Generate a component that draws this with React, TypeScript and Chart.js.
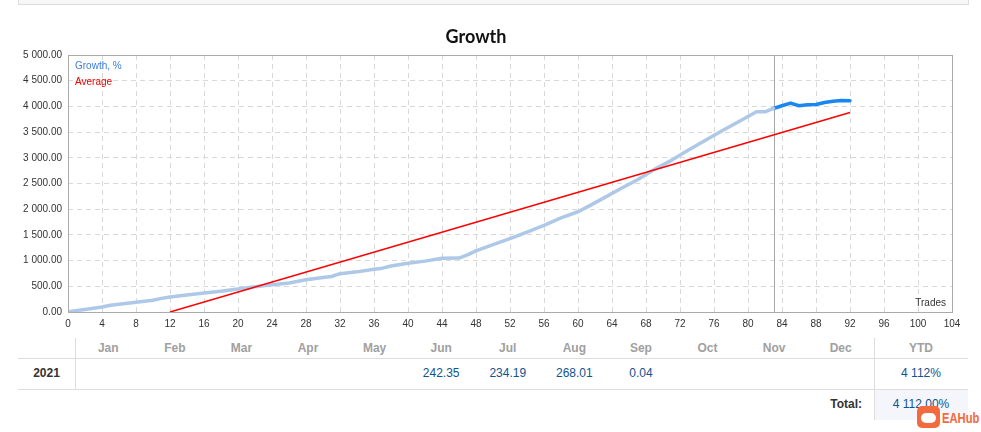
import React, { useEffect, useRef } from "react";
import { Chart, registerables } from "chart.js";

Chart.register(...registerables);

// growth curve (trade number -> growth %)
const growthTrades = [0, 2, 4, 5, 6, 8, 10, 11, 12, 14, 16, 18, 20, 22, 24, 26, 28, 30, 31, 32, 34, 36, 37, 38, 40, 42, 44, 46, 47, 48, 50, 52, 54, 56, 58, 60, 61, 63, 65, 67, 69, 71, 73, 75, 77, 79, 81, 82, 83];
const growthValues = [5, 50, 97, 130, 150, 188, 228, 265, 290, 330, 368, 405, 446, 490, 532, 565, 626, 672, 691, 745, 781, 833, 853, 895, 950, 990, 1045, 1050, 1110, 1190, 1312, 1428, 1556, 1686, 1830, 1950, 2035, 2215, 2397, 2572, 2775, 2950, 3150, 3340, 3530, 3710, 3895, 3895, 3960];
const recentTrades = [83, 84, 85, 86, 87, 88, 89, 90, 91, 92];
const recentValues = [3960, 4012, 4064, 4012, 4031, 4037, 4076, 4102, 4115, 4112];
const averageTrades = [12, 92];
const averageValues = [0, 3880];
const currentTrade = 83;

const months = ["Jan", "Feb", "Mar", "Apr", "May", "Jun", "Jul", "Aug", "Sep", "Oct", "Nov", "Dec"];
const year = "2021";
const monthValues = ["", "", "", "", "", "242.35", "234.19", "268.01", "0.04", "", "", ""];
const ytdValue = "4 112%";
const totalValue = "4 112.00%";

const fmt = (v: number) => {
    const [i, d] = Number(v).toFixed(2).split(".");
    return i.replace(/\B(?=(\d{3})+(?!\d))/g, " ") + "." + d;
};

const toPoints = (xs: number[], ys: number[]) => xs.map((x, i) => ({ x, y: ys[i] }));

const overlayPlugin = {
    id: "overlay",
    beforeDatasetsDraw(chart: any) {
        const { ctx, chartArea, scales } = chart;
        const x = Math.round(scales.x.getPixelForValue(currentTrade)) + 0.5;
        ctx.save();
        ctx.strokeStyle = "#a6a6a6";
        ctx.lineWidth = 1;
        ctx.beginPath();
        ctx.moveTo(x, chartArea.top);
        ctx.lineTo(x, chartArea.bottom);
        ctx.stroke();
        ctx.restore();
    },
    afterDraw(chart: any) {
        const { ctx, chartArea } = chart;
        ctx.save();
        ctx.strokeStyle = "#aaaaaa";
        ctx.lineWidth = 1;
        ctx.strokeRect(
            Math.round(chartArea.left) + 0.5,
            Math.round(chartArea.top) + 0.5,
            Math.round(chartArea.right - chartArea.left),
            Math.round(chartArea.bottom - chartArea.top)
        );
        ctx.font = "10px 'Liberation Sans'";
        ctx.textBaseline = "middle";
        ctx.textAlign = "left";
        ctx.fillStyle = "#3c7de0";
        ctx.fillText("Growth, %", chartArea.left + 7, chartArea.top + 11.5);
        ctx.fillStyle = "#ee0000";
        ctx.fillText("Average", chartArea.left + 7, chartArea.top + 27);
        ctx.textAlign = "right";
        ctx.fillStyle = "#333333";
        ctx.fillText("Trades", chartArea.right - 6, chartArea.bottom - 9);
        ctx.restore();
    },
};

const GrowthChart = () => {
    const canvasRef = useRef<HTMLCanvasElement | null>(null);

    useEffect(() => {
        const ctx = canvasRef.current?.getContext("2d");
        if (!ctx) return;
        const chart = new Chart(ctx, {
            type: "line",
            data: {
                datasets: [
                    {
                        label: "Average",
                        data: toPoints(averageTrades, averageValues),
                        borderColor: "#ff0000",
                        borderWidth: 1.5,
                        pointRadius: 0,
                        order: 0,
                    },
                    {
                        label: "Growth, %",
                        data: toPoints(growthTrades, growthValues),
                        borderColor: "#aec8e8",
                        borderWidth: 3.5,
                        pointRadius: 0,
                        borderJoinStyle: "round",
                        borderCapStyle: "round",
                        order: 1,
                    },
                    {
                        label: "Growth, % (recent)",
                        data: toPoints(recentTrades, recentValues),
                        borderColor: "#1a86f0",
                        borderWidth: 3.5,
                        pointRadius: 0,
                        borderJoinStyle: "round",
                        borderCapStyle: "round",
                        order: 1,
                    },
                ],
            },
            options: {
                animation: false,
                responsive: true,
                maintainAspectRatio: false,
                layout: { padding: { left: 0, right: 29, top: 0, bottom: 0 } },
                plugins: {
                    legend: { display: false },
                    tooltip: { enabled: false },
                    title: {
                        display: true,
                        text: "Growth",
                        color: "#111111",
                        font: { family: "Lato", size: 18, weight: "bold", lineHeight: 1.2 },
                        padding: { top: 26, bottom: 7.4 },
                    },
                },
                scales: {
                    x: {
                        type: "linear",
                        min: 0,
                        max: 104,
                        afterFit: (s: any) => { s.height = 24; },
                        ticks: {
                            stepSize: 4,
                            color: "#333333",
                            font: { family: "Liberation Sans", size: 10 },
                            padding: 6,
                            maxRotation: 0,
                        },
                        grid: { color: "#d9d9d9", drawTicks: false },
                        border: { display: false, dash: [5, 4] },
                    },
                    y: {
                        min: 0,
                        max: 5000,
                        afterFit: (s: any) => { s.width = 68; },
                        ticks: {
                            stepSize: 500,
                            color: "#333333",
                            font: { family: "Liberation Sans", size: 10 },
                            padding: 6,
                            callback: (v: any) => fmt(Number(v)),
                        },
                        grid: { color: "#d9d9d9", drawTicks: false },
                        border: { display: false, dash: [5, 4] },
                    },
                },
            },
            plugins: [overlayPlugin],
        });
        return () => {
            chart.destroy();
        };
    }, []);

    return (
        <div style={{ position: "absolute", left: 0, top: 0, width: 981, height: 336 }}>
            <canvas ref={canvasRef} />
        </div>
    );
};

const colLeft = 18;
const firstColRight = 75;
const ytdLeft = 874;
const tableRight = 968;
const monthWidth = (ytdLeft - firstColRight) / months.length;

const cell = (left: number, top: number, width: number, height: number, style: React.CSSProperties = {}): React.CSSProperties => ({
    position: "absolute",
    left,
    top,
    width,
    height,
    lineHeight: height + "px",
    textAlign: "center",
    ...style,
});

const ResultsTable = () => {
    const valueColor = "#11538f";
    return (
        <div style={{ fontFamily: "'Liberation Sans', sans-serif", fontSize: 12 }}>
            {months.map((m, i) => (
                <div key={m} style={cell(firstColRight + i * monthWidth, 338, monthWidth, 20, { color: "#a0a0a0", fontWeight: "bold" })}>
                    {m}
                </div>
            ))}
            <div style={cell(ytdLeft, 338, tableRight - ytdLeft, 20, { color: "#a0a0a0", fontWeight: "bold" })}>YTD</div>
            <div style={cell(colLeft, 358, firstColRight - colLeft, 31, { color: "#333", fontWeight: "bold" })}>{year}</div>
            {monthValues.map((v, i) => (
                <div key={i} style={cell(firstColRight + i * monthWidth, 358, monthWidth, 31, { color: valueColor })}>
                    {v}
                </div>
            ))}
            <div style={cell(ytdLeft, 358, tableRight - ytdLeft, 31, { color: valueColor })}>{ytdValue}</div>
            <div style={{ position: "absolute", left: ytdLeft + 1, top: 390, width: tableRight - ytdLeft - 1, height: 30, background: "#f4f6fb" }} />
            <div style={cell(700, 389, 162, 31, { color: "#333", fontWeight: "bold", textAlign: "right" })}>Total:</div>
            <div style={cell(ytdLeft, 389, tableRight - ytdLeft, 31, { color: valueColor })}>{totalValue}</div>
            <div style={{ position: "absolute", left: colLeft, top: 358, width: tableRight - colLeft, height: 1, background: "#dddddd" }} />
            <div style={{ position: "absolute", left: colLeft, top: 389, width: tableRight - colLeft, height: 1, background: "#dddddd" }} />
            <div style={{ position: "absolute", left: firstColRight, top: 338, width: 1, height: 51, background: "#dddddd" }} />
            <div style={{ position: "absolute", left: ytdLeft, top: 338, width: 1, height: 82, background: "#dddddd" }} />
        </div>
    );
};

const App = () => {
    useEffect(() => {
        document.body.style.margin = "0";
    }, []);
    return (
        <div style={{ position: "relative", width: 981, height: 432, background: "#ffffff", overflow: "hidden" }}>
            <div style={{ position: "absolute", left: 18, top: -2, width: 949, height: 5, border: "1px solid #dddddd", background: "#f7f7f7" }} />
            <GrowthChart />
            <ResultsTable />
            <div style={{ position: "absolute", left: 917, top: 406, width: 23, height: 22, borderRadius: 5, background: "#f26a3d" }}>
                <div style={{ position: "absolute", left: 4, top: 7, width: 15, height: 10, borderRadius: 6, background: "#ffffff" }} />
            </div>
            <div style={{ position: "absolute", left: 942, top: 408, fontFamily: "'Liberation Sans', sans-serif", fontWeight: "bold", fontSize: 14, color: "#f26a3d", lineHeight: "20px", transform: "scaleX(0.8)", transformOrigin: "left center" }}>
                EAHub
            </div>
        </div>
    );
};

export default App;
